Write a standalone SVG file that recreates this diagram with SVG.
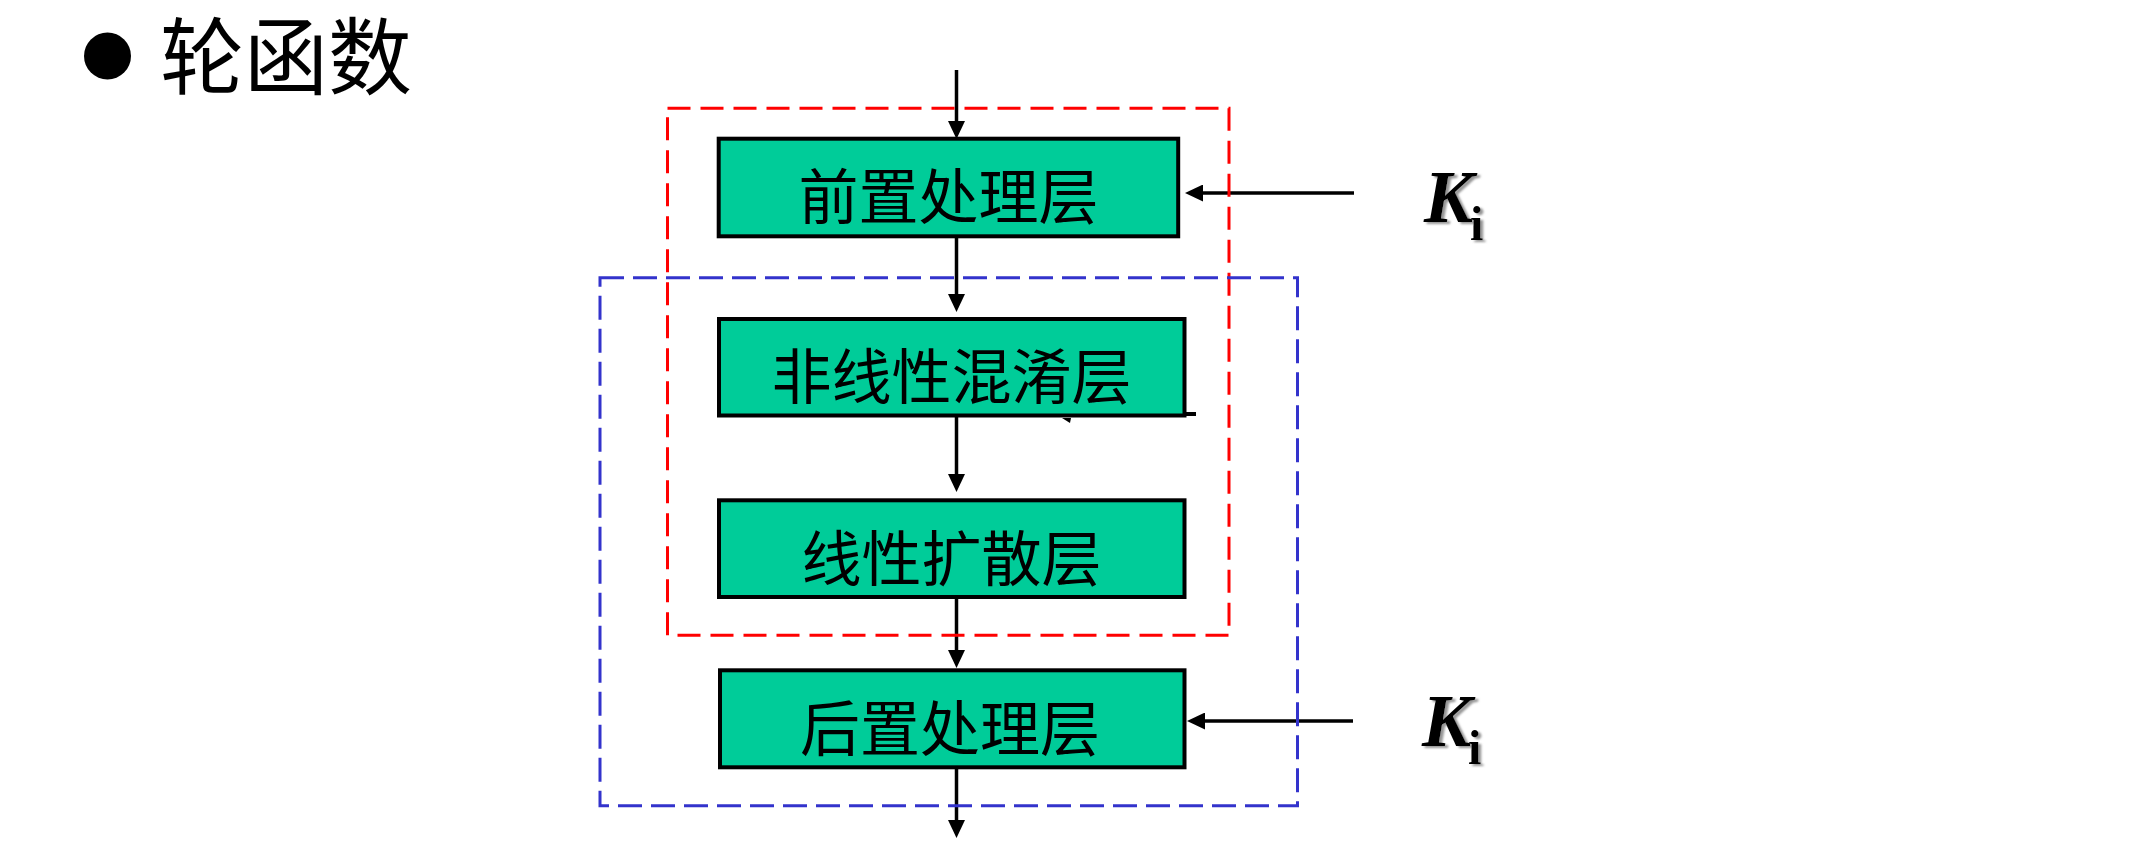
<svg xmlns="http://www.w3.org/2000/svg" width="2151" height="859" viewBox="0 0 2151 859">
  <style>
    .box { fill: #00CC99; stroke: #000000; stroke-width: 4; }
    .lbl { font-family: "Noto Sans CJK SC", "Noto Sans CJK TC", sans-serif; font-size: 60px; fill: #000000; text-anchor: middle; dominant-baseline: central; }
    .title { font-family: "Noto Sans CJK SC", "Noto Sans CJK TC", sans-serif; font-size: 84px; fill: #000000; }
    .conn { stroke: #000000; stroke-width: 3.5; fill: none; }
    .arr { marker-end: url(#ah); }
    .kmain { font-family: "Liberation Serif", "Times New Roman", serif; font-weight: bold; font-style: italic; font-size: 74px; fill: #000000; }
    .ksub { font-family: "Liberation Serif", "Times New Roman", serif; font-weight: bold; font-size: 48px; fill: #000000; }
    .frame-red { fill: none; stroke: #FF0000; stroke-width: 3; stroke-dasharray: 23 10; }
    .frame-blue { fill: none; stroke: #3333CC; stroke-width: 3; stroke-dasharray: 24 9; }
  </style>
  <defs>
    <marker id="ah" viewBox="0 0 18 17" markerWidth="18" markerHeight="17" refX="12" refY="8.5" markerUnits="userSpaceOnUse" orient="auto">
      <path d="M0,0 L18,8.5 L0,17 Z" fill="#000000"/>
    </marker>
    <filter id="shadow" x="-20%" y="-20%" width="150%" height="150%">
      <feDropShadow dx="3" dy="2" stdDeviation="0.8" flood-color="#8a8a8a" flood-opacity="0.9"/>
    </filter>
  </defs>

  <g id="title">
    <circle cx="107.5" cy="56" r="23.5" fill="#000000"/>
    <text class="title" x="160" y="88">轮函数</text>
  </g>

  <g id="node-pre">
    <rect class="box" x="718.7" y="138.7" width="459.5" height="97.6"/>
    <text class="lbl" x="948.5" y="192.5">前置处理层</text>
  </g>
  <g id="node-nonlinear">
    <rect class="box" x="719" y="319" width="465.5" height="96.5"/>
    <text class="lbl" x="951.5" y="372.5">非线性混淆层</text>
  </g>
  <g id="node-linear">
    <rect class="box" x="719" y="500.3" width="465.5" height="96.7"/>
    <text class="lbl" x="951.5" y="554">线性扩散层</text>
  </g>
  <g id="node-post">
    <rect class="box" x="720" y="670.3" width="464.5" height="97"/>
    <text class="lbl" x="950" y="724">后置处理层</text>
  </g>

  <g id="key-1" filter="url(#shadow)">
    <text class="kmain" x="1424" y="222">K</text>
    <text class="ksub" x="1470" y="240">i</text>
  </g>
  <g id="key-2" filter="url(#shadow)">
    <text class="kmain" x="1422" y="746">K</text>
    <text class="ksub" x="1468" y="764">i</text>
  </g>

  <g id="connectors">
    <line class="conn arr" x1="956.5" y1="70" x2="956.5" y2="133"/>
    <line class="conn arr" x1="956.5" y1="238" x2="956.5" y2="306"/>
    <line class="conn arr" x1="956.5" y1="417" x2="956.5" y2="486"/>
    <line class="conn arr" x1="956.5" y1="599" x2="956.5" y2="662"/>
    <line class="conn arr" x1="956.5" y1="769" x2="956.5" y2="832"/>
    <line class="conn arr" x1="1354" y1="193" x2="1191" y2="193"/>
    <line class="conn arr" x1="1353" y1="721" x2="1193" y2="721"/>
    <line x1="1186" y1="414" x2="1196" y2="414" stroke="#000000" stroke-width="4"/>
    <path d="M1062,418 L1071,418 L1070,423 Z" fill="#000000"/>
  </g>

  <g id="frames">
    <rect class="frame-red" x="667.5" y="108.3" width="561.5" height="527"/>
    <rect class="frame-blue" x="600" y="277.7" width="697.5" height="528"/>
  </g>
</svg>
